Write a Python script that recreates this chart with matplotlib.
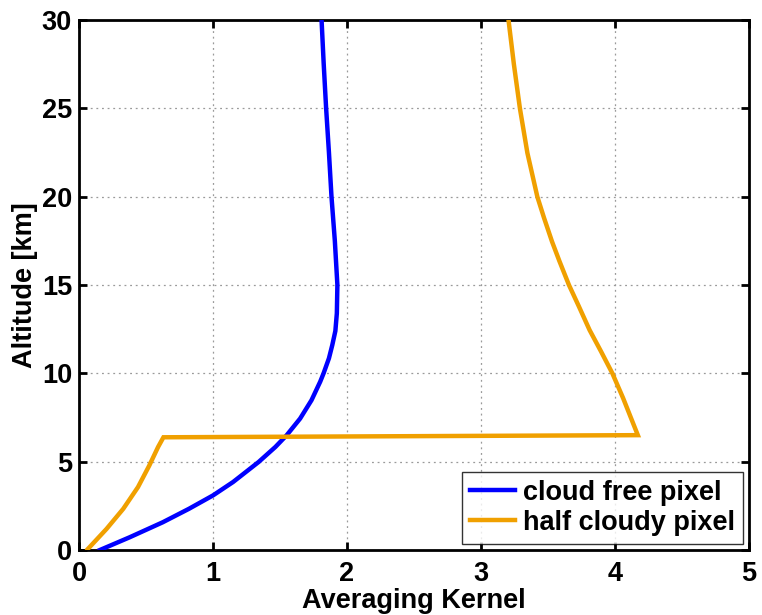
import matplotlib
matplotlib.use("Agg")
import matplotlib.pyplot as plt

plt.rcParams['font.family'] = ['Liberation Sans', 'DejaVu Sans']
plt.rcParams['font.weight'] = 'bold'

# Averaging kernel profiles (kernel value vs. altitude in km)
cloud_free_ak = [0.156, 0.378, 0.625, 0.82, 1.00, 1.15, 1.34, 1.465, 1.55, 1.65,
                 1.735, 1.80, 1.825, 1.865, 1.89, 1.913, 1.924, 1.928, 1.909,
                 1.884, 1.865, 1.844, 1.826, 1.81]
cloud_free_alt = [0.0, 0.72, 1.57, 2.33, 3.09, 3.85, 4.98, 5.83, 6.5, 7.44,
                  8.48, 9.53, 10.0, 10.85, 11.6, 12.4, 13.4, 15.0, 17.5,
                  20.0, 22.5, 25.0, 27.5, 30.0]

half_cloudy_ak = [0.065, 0.205, 0.33, 0.44, 0.525, 0.59, 0.63, 4.17, 4.06, 3.98,
                  3.896, 3.81, 3.73, 3.656, 3.585, 3.53, 3.47, 3.42, 3.346,
                  3.29, 3.245, 3.205]
half_cloudy_alt = [0.05, 1.19, 2.33, 3.56, 4.79, 5.83, 6.38, 6.5, 8.6, 10.0,
                   11.23, 12.45, 13.79, 15.0, 16.35, 17.45, 18.8, 20.0, 22.47,
                   25.0, 27.5, 30.0]

x_ticks = [0, 1, 2, 3, 4, 5]
y_ticks = [0, 5, 10, 15, 20, 25, 30]

fig = plt.figure(figsize=(7.62, 6.15), dpi=100)
ax = fig.add_axes([0.1037, 0.1057, 0.8793, 0.8618])

ax.plot(cloud_free_ak, cloud_free_alt, color='#0000FF', lw=3.2,
        label='cloud free pixel', solid_joinstyle='round', zorder=3)
ax.plot(half_cloudy_ak, half_cloudy_alt, color='#F0A000', lw=3.2,
        label='half cloudy pixel', solid_joinstyle='miter', zorder=3)

ax.set_xlim(0, 5)
ax.set_ylim(0, 30)
ax.set_xticks(x_ticks)
ax.set_yticks(y_ticks)

ax.grid(True, linestyle=(0, (1.5, 3)), color='#9a9a9a', lw=0.9)
ax.set_axisbelow(True)

for s in ax.spines.values():
    s.set_linewidth(2.0)
    s.set_color('black')

ax.tick_params(direction='in', length=6, width=2, top=True, right=True,
               labelsize=19.5, pad=8)
ax.tick_params(axis='y', pad=5)
for lbl in ax.get_xticklabels() + ax.get_yticklabels():
    lbl.set_fontweight('bold')

ax.set_xlabel('Averaging Kernel', fontsize=19.5, fontweight='bold', labelpad=1)
ax.set_ylabel('Altitude [km]', fontsize=19.5, fontweight='bold', labelpad=3)

leg = ax.legend(loc='lower right', fontsize=19.5, frameon=True, fancybox=False,
                edgecolor='black', handlelength=1.65, handletextpad=0.3,
                labelspacing=0.15, borderpad=0.3, borderaxespad=0.22)
leg.get_frame().set_linewidth(1.0)
for t in leg.get_texts():
    t.set_fontweight('bold')

fig.savefig('out.png', dpi=100)
